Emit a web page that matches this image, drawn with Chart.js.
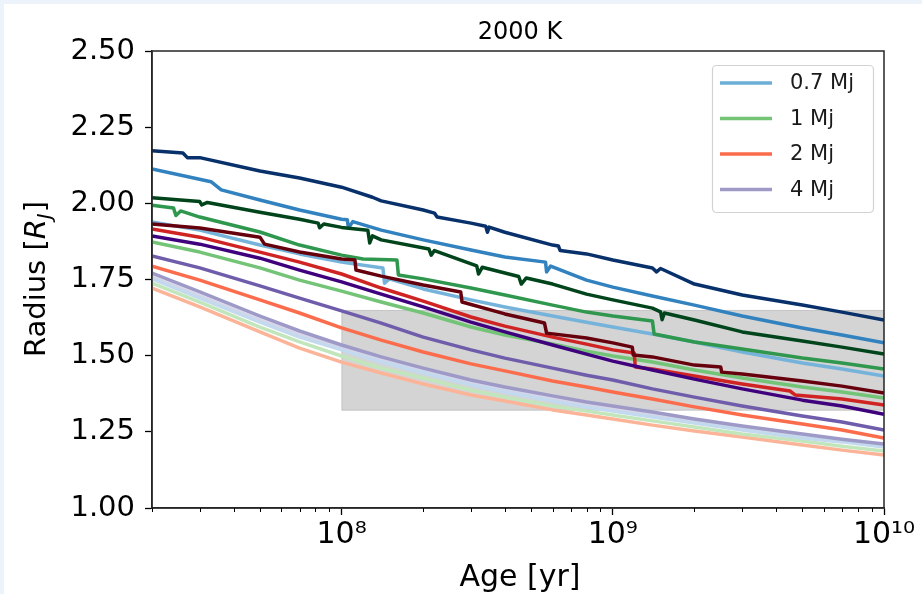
<!DOCTYPE html>
<html>
<head>
<meta charset="utf-8">
<script src="https://cdn.jsdelivr.net/npm/chart.js@4.4.0/dist/chart.umd.min.js"></script>
<style>
  html, body { margin: 0; padding: 0; background: #fff; }
  canvas { display: block; }
</style>
</head>
<body>
<canvas id="radiusChart" width="922" height="594"></canvas>
<script>
// shared age grid (yr) for the smooth tracks
const ages = [2e7, 3e7, 5e7, 7e7, 1e8, 1.4e8, 2e8, 3e8, 4e8, 6e8, 8e8, 1e9, 1.4e9, 2e9, 3e9, 5e9, 7e9, 1e10];

// smooth tracks, radius in R_J on the grid above
const indigo4   = [1.893, 1.866, 1.820, 1.781, 1.742, 1.702, 1.660, 1.610, 1.578, 1.535, 1.505, 1.482, 1.453, 1.423, 1.391, 1.354, 1.335, 1.308];
const green1Lt  = [1.873, 1.840, 1.788, 1.748, 1.712, 1.676, 1.640, 1.594, 1.568, 1.538, 1.515, 1.499, 1.479, 1.453, 1.427, 1.397, 1.381, 1.361];
const purple4   = [1.827, 1.788, 1.729, 1.689, 1.647, 1.607, 1.561, 1.519, 1.492, 1.459, 1.436, 1.420, 1.391, 1.364, 1.335, 1.302, 1.282, 1.256];
const orange2   = [1.794, 1.748, 1.683, 1.640, 1.591, 1.551, 1.512, 1.473, 1.450, 1.417, 1.397, 1.381, 1.358, 1.332, 1.305, 1.276, 1.256, 1.230];
const lav4      = [1.771, 1.709, 1.630, 1.581, 1.535, 1.496, 1.459, 1.420, 1.397, 1.368, 1.348, 1.335, 1.315, 1.292, 1.269, 1.243, 1.226, 1.210];
const paleBlue  = [1.752, 1.689, 1.610, 1.561, 1.519, 1.479, 1.443, 1.404, 1.381, 1.351, 1.331, 1.318, 1.299, 1.279, 1.256, 1.230, 1.217, 1.200];
const palePurp  = [1.758, 1.696, 1.617, 1.568, 1.525, 1.486, 1.450, 1.410, 1.387, 1.358, 1.338, 1.325, 1.305, 1.286, 1.263, 1.236, 1.223, 1.207];
const paleGreen = [1.738, 1.676, 1.594, 1.545, 1.499, 1.459, 1.427, 1.387, 1.364, 1.335, 1.318, 1.305, 1.286, 1.266, 1.243, 1.220, 1.203, 1.187];
const salmon2   = [1.722, 1.660, 1.578, 1.525, 1.479, 1.443, 1.407, 1.371, 1.351, 1.322, 1.305, 1.292, 1.272, 1.253, 1.233, 1.207, 1.190, 1.174];

// tracks with jumps, [age, radius] pairs
const navy07 = [[2e7, 2.173], [2.6e7, 2.165], [2.7e7, 2.150], [3e7, 2.150], [5e7, 2.106], [7e7, 2.083], [1e8, 2.053],
  [1.3e8, 2.020], [1.4e8, 2.008], [2e8, 1.978], [2.2e8, 1.968], [2.25e8, 1.955], [3e8, 1.935], [3.4e8, 1.925],
  [3.45e8, 1.905], [3.5e8, 1.922], [4e8, 1.905], [6e8, 1.863], [6.3e8, 1.860], [6.4e8, 1.845], [8e8, 1.834],
  [1e9, 1.814], [1.4e9, 1.788], [1.45e9, 1.775], [1.5e9, 1.786], [2e9, 1.735], [3e9, 1.699], [5e9, 1.666],
  [7e9, 1.643], [1e10, 1.617]];
const blue07 = [[2e7, 2.113], [3.3e7, 2.071], [3.6e7, 2.044], [5e7, 2.011], [7e7, 1.978], [1e8, 1.948],
  [1.05e8, 1.946], [1.06e8, 1.919], [1.1e8, 1.940], [1.4e8, 1.912], [2e8, 1.880], [3e8, 1.847], [4e8, 1.824],
  [5.65e8, 1.807], [5.7e8, 1.775], [5.9e8, 1.794], [8e8, 1.748], [1e9, 1.725], [1.4e9, 1.696], [2e9, 1.666],
  [3e9, 1.630], [5e9, 1.591], [7e9, 1.568], [1e10, 1.542]];
const ltBlue07 = [[2e7, 1.939], [3e7, 1.912], [5e7, 1.863], [7e7, 1.834], [1e8, 1.807], [1.42e8, 1.788],
  [1.44e8, 1.738], [1.5e8, 1.752], [2e8, 1.719], [3e8, 1.683], [4e8, 1.660], [6e8, 1.630], [8e8, 1.610],
  [1e9, 1.594], [1.4e9, 1.571], [2e9, 1.545], [3e9, 1.512], [5e9, 1.476], [7e9, 1.456], [1e10, 1.433]];
const dkGreen1 = [[2e7, 2.018], [3e7, 2.006], [3.05e7, 1.995], [3.2e7, 2.003], [5e7, 1.971], [7e7, 1.948],
  [8.2e7, 1.935], [8.3e7, 1.920], [8.6e7, 1.932], [1e8, 1.921], [1.25e8, 1.912], [1.27e8, 1.870],
  [1.3e8, 1.893], [1.4e8, 1.880], [2.1e8, 1.850], [2.14e8, 1.830], [2.2e8, 1.845], [3.15e8, 1.795],
  [3.2e8, 1.768], [3.3e8, 1.790], [4.5e8, 1.760], [4.6e8, 1.735], [4.8e8, 1.755], [6e8, 1.735], [8e8, 1.702],
  [1e9, 1.683], [1.4e9, 1.656], [1.5e9, 1.644], [1.52e9, 1.618], [1.55e9, 1.640], [2e9, 1.617], [3e9, 1.578],
  [5e9, 1.548], [7e9, 1.528], [1e10, 1.505]];
const green1 = [[2e7, 1.994], [2.4e7, 1.985], [2.45e7, 1.960], [2.55e7, 1.975], [3e7, 1.955], [5e7, 1.906],
  [7e7, 1.863], [1e8, 1.830], [1.2e8, 1.817], [1.6e8, 1.814], [1.62e8, 1.765], [2e8, 1.752], [3e8, 1.722],
  [4e8, 1.699], [6e8, 1.666], [8e8, 1.643], [1e9, 1.630], [1.4e9, 1.614], [1.42e9, 1.571], [2e9, 1.545],
  [3e9, 1.522], [5e9, 1.492], [7e9, 1.476], [1e10, 1.456]];
const maroon2 = [[2e7, 1.932], [3e7, 1.919], [5e7, 1.889], [5.2e7, 1.866], [7e7, 1.840], [1e8, 1.817],
  [1.12e8, 1.814], [1.13e8, 1.781], [1.4e8, 1.761], [2e8, 1.732], [2.75e8, 1.709], [2.78e8, 1.676],
  [4e8, 1.637], [5.6e8, 1.607], [5.7e8, 1.574], [8e8, 1.558], [1e9, 1.542], [1.18e9, 1.528], [1.19e9, 1.502],
  [1.4e9, 1.496], [2e9, 1.469], [2.5e9, 1.463], [2.52e9, 1.446], [3e9, 1.440], [5e9, 1.417], [7e9, 1.400],
  [1e10, 1.377]];
const red2 = [[2e7, 1.916], [3e7, 1.889], [5e7, 1.840], [7e7, 1.807], [1e8, 1.768], [1.4e8, 1.722], [2e8, 1.679],
  [3e8, 1.627], [4e8, 1.597], [6e8, 1.561], [8e8, 1.538], [1e9, 1.519], [1.2e9, 1.509], [1.21e9, 1.463],
  [1.4e9, 1.456], [2e9, 1.433], [3e9, 1.407], [4.5e9, 1.384], [4.7e9, 1.371], [7e9, 1.358], [1e10, 1.338]];

// constraint box: age range and radius range
const boxAges = [1e8, 1e10];
const boxRadii = [1.32, 1.65];

const yTicks = [1.00, 1.25, 1.50, 1.75, 2.00, 2.25, 2.50];
const xMajor = [1e8, 1e9, 1e10];
const supers = { 8: '\u2078', 9: '\u2079', 10: '\u00b9\u2070' };

const legendNames = ['0.7 Mj', '1 Mj', '2 Mj', '4 Mj'];
const legendColours = ['#6baed6', '#74c476', '#fb6a4a', '#9e9ac8'];

const onGrid = vals => vals.map((r, i) => ({ x: ages[i], y: r }));
const fromPairs = pts => pts.map(p => ({ x: p[0], y: p[1] }));

// first entry is drawn on top
const tracks = [
  { data: fromPairs(navy07), color: '#08306b' },
  { data: fromPairs(dkGreen1), color: '#00441b' },
  { data: fromPairs(maroon2), color: '#67000d' },
  { data: onGrid(indigo4), color: '#3f007d' },
  { data: fromPairs(blue07), color: '#3282bf' },
  { data: fromPairs(green1), color: '#2f974e' },
  { data: fromPairs(red2), color: '#d02424' },
  { data: onGrid(purple4), color: '#6f5dab' },
  { data: fromPairs(ltBlue07), color: '#75b3db' },
  { data: onGrid(green1Lt), color: '#73c476' },
  { data: onGrid(orange2), color: '#fb6c4c' },
  { data: onGrid(lav4), color: '#9e9ac8' },
  { data: onGrid(paleBlue), color: '#c3d9ee' },
  { data: onGrid(palePurp), color: '#d6d5e9' },
  { data: onGrid(paleGreen), color: '#c2e6bb' },
  { data: onGrid(salmon2), color: '#fcb499' }
];

const decor = {
  id: 'decor',
  beforeDraw(chart) {
    const ctx = chart.ctx;
    ctx.save();
    ctx.fillStyle = '#edf3fa';
    ctx.fillRect(0, 0, chart.width, chart.height);
    ctx.fillStyle = '#ffffff';
    ctx.fillRect(4, 4, chart.width - 4, chart.height - 4);
    ctx.restore();
  },
  beforeDatasetsDraw(chart) {
    const { ctx, scales: { x, y } } = chart;
    const x0 = x.getPixelForValue(boxAges[0]), x1 = x.getPixelForValue(boxAges[1]);
    const y0 = y.getPixelForValue(boxRadii[1]), y1 = y.getPixelForValue(boxRadii[0]);
    ctx.save();
    ctx.fillStyle = '#d4d4d4';
    ctx.fillRect(x0, y0, x1 - x0, y1 - y0);
    ctx.strokeStyle = '#c6c6c6';
    ctx.lineWidth = 1;
    ctx.strokeRect(x0 + 0.5, y0 + 0.5, x1 - x0 - 1, y1 - y0 - 1);
    ctx.restore();
  },
  afterDraw(chart) {
    const { ctx, chartArea: a, scales: { x } } = chart;
    ctx.save();
    // frame
    ctx.strokeStyle = '#262626';
    ctx.lineWidth = 1.5;
    ctx.strokeRect(a.left, a.top, a.right - a.left, a.bottom - a.top);

    // minor ticks on the log axis
    ctx.lineWidth = 1;
    ctx.strokeStyle = '#000';
    for (let e = 7; e <= 9; e++) {
      for (let m = 2; m <= 9; m++) {
        const v = m * Math.pow(10, e);
        if (v < x.min || v > x.max) continue;
        const px = Math.round(x.getPixelForValue(v)) + 0.5;
        ctx.beginPath();
        ctx.moveTo(px, a.bottom);
        ctx.lineTo(px, a.bottom + 4);
        ctx.stroke();
      }
    }

    // title
    ctx.fillStyle = '#000';
    ctx.font = '24px "DejaVu Sans"';
    ctx.textAlign = 'center';
    ctx.textBaseline = 'alphabetic';
    ctx.fillText('2000 K', (a.left + a.right) / 2 + 2, 39);

    // x axis title
    ctx.font = '30px "DejaVu Sans"';
    ctx.fillText('Age [yr]', (a.left + a.right) / 2 + 2, 586);

    // y axis title with italic R and subscript J
    ctx.translate(45, (a.top + a.bottom) / 2);
    ctx.rotate(-Math.PI / 2);
    const partA = 'Radius [';
    const partR = 'R';
    const partJ = 'J';
    const partC = ']';
    const fN = '29px "DejaVu Sans"', fI = 'italic 29px "DejaVu Sans"', fS = 'italic 20px "DejaVu Sans"';
    ctx.font = fN; const wA = ctx.measureText(partA).width, wC = ctx.measureText(partC).width;
    ctx.font = fI; const wR = ctx.measureText(partR).width;
    ctx.font = fS; const wJ = ctx.measureText(partJ).width;
    let cx = -(wA + wR + wJ + wC) / 2;
    ctx.textAlign = 'left';
    ctx.font = fN; ctx.fillText(partA, cx, 0); cx += wA;
    ctx.font = fI; ctx.fillText(partR, cx, 0); cx += wR;
    ctx.font = fS; ctx.fillText(partJ, cx, 6); cx += wJ + 1;
    ctx.font = fN; ctx.fillText(partC, cx, 0);
    ctx.setTransform(1, 0, 0, 1, 0, 0);

    // legend
    const lx = 712, ly = 65, lw = 161, lh = 147;
    ctx.fillStyle = 'rgba(255,255,255,0.85)';
    ctx.strokeStyle = '#d2d2d2';
    ctx.lineWidth = 1.2;
    ctx.beginPath();
    ctx.roundRect(lx + 0.5, ly + 0.5, lw, lh, 4);
    ctx.fill();
    ctx.stroke();
    ctx.font = '21px "DejaVu Sans"';
    ctx.textBaseline = 'middle';
    ctx.textAlign = 'left';
    legendNames.forEach((name, i) => {
      const yy = ly + 18 + i * 35.5;
      ctx.strokeStyle = legendColours[i];
      ctx.lineWidth = 3.5;
      ctx.beginPath();
      ctx.moveTo(720, yy);
      ctx.lineTo(772, yy);
      ctx.stroke();
      ctx.fillStyle = '#1a1a1a';
      ctx.fillText(name, 790, yy + 1);
    });
    ctx.restore();
  }
};

new Chart(document.getElementById('radiusChart'), {
  type: 'line',
  data: {
    datasets: tracks.map(t => ({
      data: t.data,
      borderColor: t.color,
      backgroundColor: t.color,
      borderWidth: 3.5,
      borderJoinStyle: 'round',
      pointRadius: 0,
      tension: 0,
      fill: false
    }))
  },
  options: {
    responsive: false,
    animation: false,
    devicePixelRatio: 1,
    layout: { padding: { top: 51, right: 38, left: 0, bottom: 0 } },
    plugins: {
      legend: { display: false },
      title: { display: false },
      tooltip: { enabled: false }
    },
    scales: {
      x: {
        type: 'logarithmic',
        min: 2e7,
        max: 1e10,
        afterBuildTicks: scale => { scale.ticks = xMajor.map(v => ({ value: v, major: true })); },
        afterFit: scale => { scale.height = 86; },
        ticks: {
          autoSkip: false,
          maxRotation: 0,
          color: '#000',
          padding: 2,
          font: { family: 'DejaVu Sans', size: 30 },
          callback: v => '10' + supers[Math.round(Math.log10(v))]
        },
        grid: { drawOnChartArea: false, drawTicks: true, tickLength: 7, tickColor: '#000', tickWidth: 1.3 },
        border: { display: true, color: '#262626', width: 1.5 }
      },
      y: {
        type: 'linear',
        min: 1,
        max: 2.5,
        afterBuildTicks: scale => { scale.ticks = yTicks.map(v => ({ value: v })); },
        afterFit: scale => { scale.width = 152; },
        ticks: {
          color: '#000',
          padding: 10,
          font: { family: 'DejaVu Sans', size: 29 },
          callback: v => v.toFixed(2)
        },
        grid: { drawOnChartArea: false, drawTicks: true, tickLength: 7, tickColor: '#000', tickWidth: 1.3 },
        border: { display: true, color: '#262626', width: 1.5 }
      }
    }
  },
  plugins: [decor]
});
</script>
</body>
</html>
